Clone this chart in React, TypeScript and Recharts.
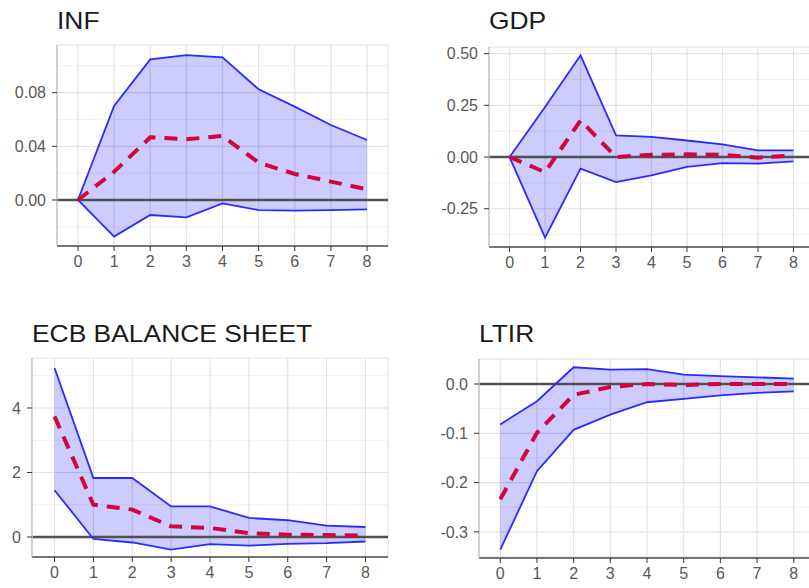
import {
  ComposedChart,
  Area,
  Line,
  XAxis,
  YAxis,
  CartesianGrid,
  ReferenceLine,
} from "recharts"

// horizon (periods after the shock)
const horizon = [0, 1, 2, 3, 4, 5, 6, 7, 8]

// INF
const infLow = [0, -0.0273, -0.0112, -0.0129, -0.0025, -0.0075, -0.008, -0.0075, -0.007]
const infMid = [0, 0.021, 0.0467, 0.0452, 0.0477, 0.0278, 0.0194, 0.0137, 0.008]
const infHigh = [0, 0.07, 0.1048, 0.108, 0.1063, 0.0825, 0.0696, 0.0559, 0.0447]

// GDP
const gdpLow = [0, -0.39, -0.056, -0.121, -0.089, -0.048, -0.029, -0.032, -0.021]
const gdpMid = [0, -0.073, 0.177, 0.0, 0.011, 0.013, 0.011, -0.003, 0.008]
const gdpHigh = [0, 0.242, 0.492, 0.105, 0.097, 0.08, 0.061, 0.032, 0.032]

// ECB BALANCE SHEET
const ecbLow = [1.45, -0.06, -0.17, -0.39, -0.22, -0.27, -0.21, -0.19, -0.14]
const ecbMid = [3.74, 1.0, 0.85, 0.33, 0.28, 0.12, 0.07, 0.06, 0.04]
const ecbHigh = [5.24, 1.83, 1.83, 0.95, 0.95, 0.59, 0.52, 0.35, 0.31]

// LTIR
const ltirLow = [-0.336, -0.177, -0.093, -0.062, -0.037, -0.03, -0.023, -0.018, -0.015]
const ltirMid = [-0.234, -0.099, -0.022, -0.006, 0, -0.002, 0, 0, 0]
const ltirHigh = [-0.082, -0.035, 0.034, 0.029, 0.03, 0.019, 0.016, 0.0135, 0.011]

// y axis ticks
const infTicks = [0, 0.04, 0.08]
const infMinor = [-0.02, 0.02, 0.06, 0.1]
const gdpTicks = [-0.25, 0, 0.25, 0.5]
const gdpMinor = [-0.375, -0.125, 0.125, 0.375]
const ecbTicks = [0, 2, 4]
const ecbMinor = [1, 3, 5]
const ltirTicks = [-0.3, -0.2, -0.1, 0]
const ltirMinor = [-0.35, -0.25, -0.15, -0.05, 0.05]

const FONT = '"Liberation Sans", Arial, sans-serif'
const TICK = { fontSize: 16, fill: "#585858", fontFamily: FONT }

interface PanelProps {
  title: string
  low: number[]
  mid: number[]
  high: number[]
  ticks: number[]
  minor: number[]
  domain: [number, number]
  digits: number
  left: number
  top: number
  width: number
  height: number
  yWidth: number
  marginTop: number
  marginRight: number
  titleTop: number
}

function Panel(p: PanelProps) {
  const data = horizon.map((h, i) => ({
    h,
    lo: p.low[i],
    mid: p.mid[i],
    hi: p.high[i],
    band: [p.low[i], p.high[i]],
  }))
  return (
    <>
      <div
        style={{
          position: "absolute",
          left: p.left + p.yWidth,
          top: p.titleTop,
          fontFamily: FONT,
          fontSize: 24,
          lineHeight: "24px",
          color: "#1a1a1a",
          transform: "scaleX(1.1)",
          transformOrigin: "left",
          whiteSpace: "nowrap",
        }}
      >
        {p.title}
      </div>
      <div style={{ position: "absolute", left: p.left, top: p.top }}>
        <ComposedChart
          width={p.width}
          height={p.height}
          data={data}
          margin={{ top: p.marginTop, right: p.marginRight, left: 0, bottom: 0 }}
        >
          {/* minor grid first, then major grid */}
          <CartesianGrid vertical={false} horizontalValues={p.minor} stroke="#f0f0f0" strokeWidth={1} />
          <CartesianGrid stroke="#e2e2e2" strokeWidth={1.2} />
          <XAxis
            dataKey="h"
            type="number"
            domain={[-0.58, 8.58]}
            ticks={horizon}
            allowDataOverflow
            height={30}
            tick={TICK}
            tickSize={5}
            tickMargin={5}
            tickLine={{ stroke: "#333" }}
            axisLine={{ stroke: "#4d4d4d", strokeWidth: 1.6 }}
          />
          <YAxis
            type="number"
            domain={p.domain}
            ticks={p.ticks}
            allowDataOverflow
            interval={0}
            width={p.yWidth}
            tick={TICK}
            tickSize={5}
            tickMargin={6}
            tickLine={{ stroke: "#333" }}
            axisLine={{ stroke: "#c4c4c4", strokeWidth: 1.4 }}
            tickFormatter={(v: number) => v.toFixed(p.digits)}
          />
          <XAxis
            xAxisId="top"
            orientation="top"
            type="number"
            domain={[0, 1]}
            height={0}
            tick={false}
            tickLine={false}
            axisLine={{ stroke: "#c4c4c4", strokeWidth: 1.4 }}
          />
          <YAxis
            yAxisId="right"
            orientation="right"
            type="number"
            domain={[0, 1]}
            width={0}
            tick={false}
            tickLine={false}
            axisLine={{ stroke: "#4d4d4d", strokeWidth: 1.6 }}
          />
          <Area
            dataKey="band"
            type="linear"
            fill="#0000ff"
            fillOpacity={0.2}
            stroke="none"
            isAnimationActive={false}
          />
          <ReferenceLine y={0} stroke="#505050" strokeWidth={2.5} />
          <Line dataKey="hi" type="linear" stroke="#2a2aff" strokeWidth={1.8} dot={false} isAnimationActive={false} />
          <Line dataKey="lo" type="linear" stroke="#2a2aff" strokeWidth={1.8} dot={false} isAnimationActive={false} />
          <Line
            dataKey="mid"
            type="linear"
            stroke="#d4043c"
            strokeWidth={4}
            strokeDasharray="13 9"
            dot={false}
            isAnimationActive={false}
          />
        </ComposedChart>
      </div>
    </>
  )
}

export default function App() {
  return (
    <div
      style={{
        position: "absolute",
        left: 0,
        top: 0,
        width: 809,
        height: 588,
        overflow: "hidden",
        background: "#fff",
      }}
    >
      <Panel
        title="INF"
        low={infLow}
        mid={infMid}
        high={infHigh}
        ticks={infTicks}
        minor={infMinor}
        domain={[-0.0343, 0.1155]}
        digits={2}
        left={0}
        top={0}
        width={398}
        height={276}
        yWidth={57}
        marginTop={45}
        marginRight={10}
        titleTop={9}
      />
      <Panel
        title="GDP"
        low={gdpLow}
        mid={gdpMid}
        high={gdpHigh}
        ticks={gdpTicks}
        minor={gdpMinor}
        domain={[-0.435, 0.532]}
        digits={2}
        left={429}
        top={0}
        width={390}
        height={277}
        yWidth={60}
        marginTop={47}
        marginRight={5}
        titleTop={9}
      />
      <Panel
        title="ECB BALANCE SHEET"
        low={ecbLow}
        mid={ecbMid}
        high={ecbHigh}
        ticks={ecbTicks}
        minor={ecbMinor}
        domain={[-0.62, 5.55]}
        digits={0}
        left={0}
        top={300}
        width={398}
        height={287}
        yWidth={32}
        marginTop={58}
        marginRight={10}
        titleTop={322}
      />
      <Panel
        title="LTIR"
        low={ltirLow}
        mid={ltirMid}
        high={ltirHigh}
        ticks={ltirTicks}
        minor={ltirMinor}
        domain={[-0.353, 0.0507]}
        digits={1}
        left={419}
        top={300}
        width={401}
        height={288}
        yWidth={60}
        marginTop={59}
        marginRight={5}
        titleTop={322}
      />
    </div>
  )
}
